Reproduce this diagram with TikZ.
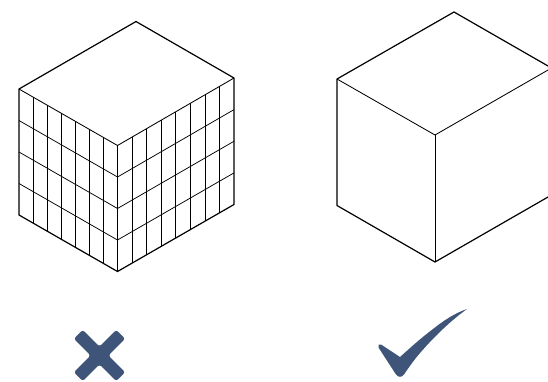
\documentclass[tikz,border=0pt]{standalone}
\usetikzlibrary{calc}
\definecolor{markblue}{RGB}{62,84,120}
\tikzset{
  edgeline/.style={line width=1.2pt,black,line join=round},
  thinedge/.style={line width=0.85pt,black},
  gridline/.style={line width=0.75pt,black},
  markshape/.style={fill=markblue,draw=none}
}
\begin{document}
\begin{tikzpicture}[x=1pt,y=-1pt]
\useasboundingbox (0,0) rectangle (548,381);
\clip (0,0) rectangle (548,381);
% left cube corners
\coordinate (T) at (136,21.5);
\coordinate (L) at (19,89);
\coordinate (R) at (234,78);
\coordinate (F) at (117.5,145.5);
\coordinate (B) at (117.5,271.5);
\coordinate (LB) at (19,215);
\coordinate (RB) at (234,204.5);
% grid
\foreach \i in {1,...,6}{
  \draw[gridline] ($(L)!\i/7!(F)$) -- ($(LB)!\i/7!(B)$);
}
\foreach \i in {1,...,7}{
  \draw[gridline] ($(F)!\i/8!(R)$) -- ($(B)!\i/8!(RB)$);
}
\foreach \i in {1,2,3}{
  \draw[gridline] ($(L)!\i/4!(LB)$) -- ($(F)!\i/4!(B)$) -- ($(R)!\i/4!(RB)$);
}
\draw[thinedge] (L) -- (F) -- (R);
\draw[thinedge] (F) -- (B);
\draw[edgeline] (L) -- (T) -- (R) -- (RB) -- (B) -- (LB) -- cycle;
% right cube corners
\coordinate (T2) at (454,12);
\coordinate (L2) at (337,79);
\coordinate (R2) at (551.5,68);
\coordinate (F2) at (435,135);
\coordinate (B2) at (435,262);
\coordinate (LB2) at (337,205.5);
\coordinate (RB2) at (551.5,195);
\draw[thinedge] (L2) -- (F2) -- (R2);
\draw[thinedge] (F2) -- (B2);
\draw[edgeline] (R2) -- (T2) -- (L2) -- (LB2) -- (B2) -- (RB2);
% cross
\begin{scope}[shift={(99.5,355.5)},rotate=45]
\fill[markshape,rounded corners=2.5pt]
  (-30,-6.3) -- (-6.3,-6.3) -- (-6.3,-30) -- (6.3,-30) -- (6.3,-6.3) -- (30,-6.3)
  -- (30,6.3) -- (6.3,6.3) -- (6.3,30) -- (-6.3,30) -- (-6.3,6.3) -- (-30,6.3) -- cycle;
\end{scope}
% tick
\fill[markshape] (467,309)
  .. controls (455,313) and (443,321) .. (433,329)
  .. controls (421,338) and (410,348) .. (400,357)
  -- (381,344.5)
  .. controls (379,343.5) and (377.5,345) .. (378.5,347.5)
  -- (396,374.5)
  .. controls (398,377.5) and (402,377.5) .. (404,374.5)
  .. controls (409,367) and (414,360) .. (420,353)
  .. controls (433,338) and (449,322) .. cycle;
\end{tikzpicture}
\end{document}
